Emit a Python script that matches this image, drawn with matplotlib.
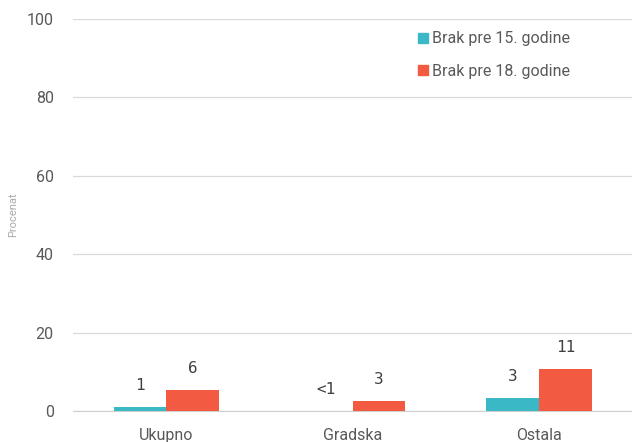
import numpy as np
import matplotlib
matplotlib.use("Agg")
import matplotlib.pyplot as plt
from matplotlib.patches import Patch

categories = ["Ukupno", "Gradska", "Ostala"]
before_15 = [1.1, 0.0, 3.3]
before_18 = [5.4, 2.6, 10.7]
labels_15 = ["1", "<1", "3"]
labels_18 = ["6", "3", "11"]
series_names = ["Brak pre 15. godine", "Brak pre 18. godine"]

BLUE = "#3BB8C6"
ORANGE = "#F25A42"
TEXT = "#595959"

plt.rcParams["font.family"] = ["Roboto", "DejaVu Sans"]

fig = plt.figure(figsize=(6.32, 4.42), dpi=100)
ax = fig.add_axes([0.116, 0.070, 0.884, 0.887])

x = np.arange(len(categories))
w = 0.283
b1 = ax.bar(x - w / 2, before_15, width=w, color=BLUE, zorder=3)
b2 = ax.bar(x + w / 2, before_18, width=w, color=ORANGE, zorder=3)

for bars, labs in ((b1, labels_15), (b2, labels_18)):
    for rect, lab in zip(bars, labs):
        ax.annotate(lab, (rect.get_x() + rect.get_width() / 2, rect.get_height()),
                    xytext=(0, 10), textcoords="offset points",
                    ha="center", va="bottom", fontsize=11.5, color="#404040",
                    family="DejaVu Sans Mono")

ax.set_xlim(-0.5, 2.5)
ax.set_ylim(0, 100)
ax.set_yticks(range(0, 101, 20))
ax.set_xticks(x)
ax.set_xticklabels(categories)
ax.yaxis.grid(True, color="#d9d9d9", linewidth=0.9, zorder=0)
ax.set_axisbelow(True)

for s in ("top", "right", "left"):
    ax.spines[s].set_visible(False)
ax.spines["bottom"].set_color("#cfcfcf")
ax.tick_params(axis="both", length=0, colors=TEXT, labelsize=11.5)
ax.tick_params(axis="x", pad=12)
ax.tick_params(axis="y", pad=14)

ax.set_ylabel("Procenat", fontsize=8, color="#aaaaaa", labelpad=6)

handles = [Patch(color=BLUE), Patch(color=ORANGE)]
ax.legend(handles, series_names, loc="upper left", bbox_to_anchor=(0.592, 1.005),
          frameon=False, fontsize=11.5, labelcolor=TEXT,
          handlelength=0.6, handleheight=0.6, handletextpad=0.25,
          labelspacing=1.1)

fig.savefig("out.png", dpi=100)
